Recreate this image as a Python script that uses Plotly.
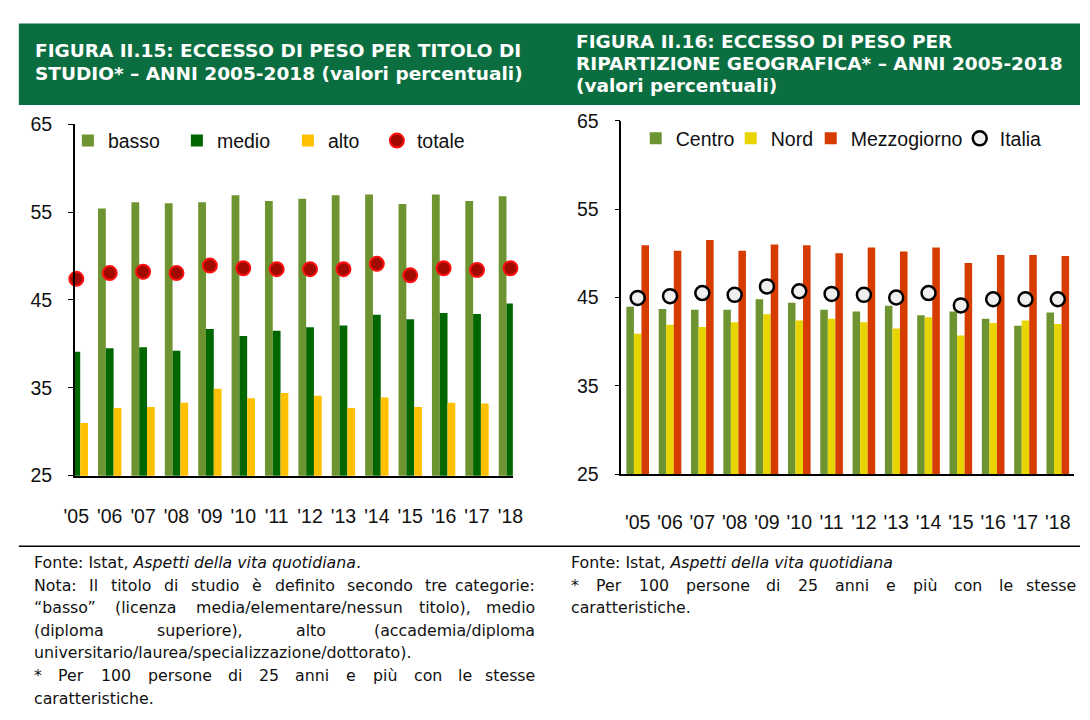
import plotly.graph_objects as go

W, H = 1090, 720

# ---------------- data ----------------
years = ["'05", "'06", "'07", "'08", "'09", "'10", "'11", "'12", "'13", "'14", "'15", "'16", "'17", "'18"]

basso = [55.2, 55.4, 56.1, 56.0, 56.1, 56.9, 56.25, 56.5, 56.9, 57.0, 55.9, 57.0, 56.25, 56.8]
medio = [39.1, 39.5, 39.6, 39.2, 41.7, 40.9, 41.5, 41.9, 42.1, 43.3, 42.8, 43.5, 43.4, 44.6]
alto = [31.0, 32.7, 32.8, 33.3, 34.9, 33.8, 34.4, 34.1, 32.7, 33.9, 32.8, 33.3, 33.2, 33.6]
totale = [47.4, 48.05, 48.2, 48.05, 48.9, 48.6, 48.5, 48.5, 48.5, 49.1, 47.8, 48.6, 48.4, 48.6]

centro = [43.95, 43.7, 43.6, 43.6, 44.8, 44.4, 43.6, 43.4, 44.05, 43.0, 43.4, 42.6, 41.8, 43.3]
nord = [40.9, 41.9, 41.65, 42.2, 43.1, 42.4, 42.6, 42.2, 41.5, 42.75, 40.7, 42.1, 42.4, 42.0]
mezzogiorno = [50.9, 50.3, 51.5, 50.3, 51.0, 50.9, 50.0, 50.65, 50.2, 50.65, 48.9, 49.8, 49.8, 49.7]
italia = [44.95, 45.15, 45.5, 45.3, 46.25, 45.7, 45.4, 45.3, 45.0, 45.5, 44.1, 44.8, 44.8, 44.8]

idx = list(range(len(years)))

title_left = ["FIGURA II.15: ECCESSO DI PESO PER TITOLO DI",
              "STUDIO* \u2013 ANNI 2005-2018 (valori percentuali)"]
title_right = ["FIGURA II.16: ECCESSO DI PESO PER",
               "RIPARTIZIONE GEOGRAFICA* \u2013 ANNI 2005-2018",
               "(valori percentuali)"]

notes_left = [
    ("Fonte: Istat, <i>Aspetti della vita quotidiana</i>.", False),
    ("Nota: Il titolo di studio \u00e8 definito secondo tre categorie:", True),
    ("\u201cbasso\u201d (licenza media/elementare/nessun titolo), medio", True),
    ("(diploma superiore), alto (accademia/diploma", True),
    ("universitario/laurea/specializzazione/dottorato).", False),
    ("* Per 100 persone di 25 anni e pi\u00f9 con le stesse", True),
    ("caratteristiche.", False),
]
notes_right = [
    ("Fonte: Istat, <i>Aspetti della vita quotidiana</i>", False),
    ("* Per 100 persone di 25 anni e pi\u00f9 con le stesse", True),
    ("caratteristiche.", False),
]

# ---------------- styles ----------------
C_BASSO = "#6E9431"
C_MEDIO = "#006600"
C_ALTO = "#FFC000"
C_CENTRO = "#6E9431"
C_NORD = "#E8D400"
C_MEZZ = "#D63C00"
BANNER = "#0B6E41"
AX_FONT = dict(family="Liberation Sans, Arial", size=19.5, color="#111111")

fig = go.Figure()

# left chart
fig.add_trace(go.Bar(x=idx, y=basso, name="basso", marker=dict(color=C_BASSO, line=dict(width=0)),
                     xaxis="x", yaxis="y", legend="legend", legendwidth=64))
fig.add_trace(go.Bar(x=idx, y=medio, name="medio", marker=dict(color=C_MEDIO, line=dict(width=0)),
                     xaxis="x", yaxis="y", legend="legend", legendwidth=66))
fig.add_trace(go.Bar(x=idx, y=alto, name="alto", marker=dict(color=C_ALTO, line=dict(width=0)),
                     xaxis="x", yaxis="y", legend="legend", legendwidth=44))
fig.add_trace(go.Scatter(x=idx, y=totale, name="totale", mode="markers", cliponaxis=False,
                         marker=dict(size=14, color="#A00A00", line=dict(color="#FF1010", width=2)),
                         xaxis="x", yaxis="y", legend="legend", legendwidth=60))

# right chart
fig.add_trace(go.Bar(x=idx, y=centro, name="Centro", marker=dict(color=C_CENTRO, line=dict(width=0)),
                     xaxis="x2", yaxis="y2", legend="legend2", legendwidth=50))
fig.add_trace(go.Bar(x=idx, y=nord, name="Nord", marker=dict(color=C_NORD, line=dict(width=0)),
                     xaxis="x2", yaxis="y2", legend="legend2", legendwidth=35))
fig.add_trace(go.Bar(x=idx, y=mezzogiorno, name="Mezzogiorno", marker=dict(color=C_MEZZ, line=dict(width=0)),
                     xaxis="x2", yaxis="y2", legend="legend2", legendwidth=104))
fig.add_trace(go.Scatter(x=idx, y=italia, name="Italia", mode="markers", cliponaxis=False,
                         marker=dict(size=14, color="#EFEFEF", line=dict(color="#000000", width=2.5)),
                         xaxis="x2", yaxis="y2", legend="legend2", legendwidth=50))


def px_x(p):
    return p / W


def px_y(p):
    return 1 - p / H


xcommon = dict(tickmode="array", tickvals=idx, ticktext=years, showline=True, linecolor="#000000",
               linewidth=1.5, ticks="", showgrid=False, zeroline=False, tickfont=AX_FONT, fixedrange=True)
ycommon = dict(range=[25, 65], dtick=10, tick0=25, showline=True, linecolor="#000000", linewidth=1.5,
               ticks="outside", ticklen=5, tickcolor="#000000", tickwidth=1.2, showgrid=False,
               zeroline=False, tickfont=AX_FONT, ticklabelstandoff=12, fixedrange=True)

fig.update_layout(
    width=W, height=H, autosize=False,
    margin=dict(l=0, r=0, t=0, b=0),
    paper_bgcolor="white", plot_bgcolor="white",
    barmode="group", bargap=0.3, bargroupgap=0,
    xaxis=dict(domain=[px_x(65), px_x(511.7)], range=[-0.047, 13.073], anchor="y",
               ticklabelstandoff=22, **xcommon),
    yaxis=dict(domain=[px_y(479.3), px_y(116.7)], anchor="x", **ycommon),
    xaxis2=dict(domain=[px_x(622.3), px_x(1083.5)], range=[-0.507, 13.49], anchor="y2",
                ticklabelstandoff=30, **xcommon),
    yaxis2=dict(domain=[px_y(477.7), px_y(113.3)], anchor="x2", **ycommon),
    legend=dict(orientation="h", x=px_x(58), y=px_y(134), xanchor="left", yanchor="middle",
                font=AX_FONT, bgcolor="rgba(0,0,0,0)", itemwidth=30, traceorder="normal"),
    legend2=dict(orientation="h", x=px_x(637), y=px_y(131.7), xanchor="left", yanchor="middle",
                 font=AX_FONT, bgcolor="rgba(0,0,0,0)", itemwidth=30, traceorder="normal"),
    showlegend=True,
)

shapes = []
annotations = []

# title banner
shapes.append(dict(type="rect", xref="paper", yref="paper", x0=px_x(8), x1=1.0, y0=px_y(97), y1=px_y(13),
                   fillcolor=BANNER, line=dict(width=0), layer="below"))
TFONT = dict(family="DejaVu Sans", size=18.5, color="white", weight="bold")
for i, t in enumerate(title_left):
    annotations.append(dict(text="<b>%s</b>" % t, xref="paper", yref="paper", x=px_x(22), y=px_y(41 + 23 * i),
                            xanchor="left", yanchor="middle", showarrow=False, font=TFONT))
for i, t in enumerate(title_right):
    annotations.append(dict(text="<b>%s</b>" % t, xref="paper", yref="paper", x=px_x(574), y=px_y(31 + 23 * i),
                            xanchor="left", yanchor="middle", showarrow=False, font=TFONT))

# separator line
shapes.append(dict(type="line", xref="paper", yref="paper", x0=px_x(8), x1=1.0, y0=px_y(552), y1=px_y(552),
                   line=dict(color="#000000", width=1.5)))

# footnotes (justified text)
NFS = 15.8
NFONT = dict(family="DejaVu Sans", size=NFS, color="#111111")
WID = {' ': .318, '*': .500, '(': .390, ')': .390, ',': .318, '.': .318, '/': .337, ':': .337, '-': .361,
       '\u201c': .518, '\u201d': .518, '\u00e8': .615, '\u00f9': .634,
       'N': .748, 'I': .295, 'F': .575,
       'a': .613, 'b': .635, 'c': .550, 'd': .635, 'e': .615, 'f': .352, 'g': .635, 'h': .634, 'i': .278,
       'j': .278, 'k': .579, 'l': .278, 'm': .974, 'n': .634, 'o': .612, 'p': .635, 'q': .635, 'r': .411,
       's': .521, 't': .392, 'u': .634, 'v': .592, 'w': .818, 'x': .592, 'y': .592, 'z': .525}


def wlen(s):
    return sum(WID.get(ch, .636) for ch in s) * NFS


def add_note_lines(lines, x0, x1, y0, dy):
    for k, (txt, just) in enumerate(lines):
        y = px_y(y0 + dy * k)
        if not just:
            annotations.append(dict(text=txt, xref="paper", yref="paper", x=px_x(x0), y=y, xanchor="left",
                                    yanchor="middle", showarrow=False, font=NFONT))
            continue
        words = txt.split(" ")
        tot = sum(wlen(w) for w in words)
        gap = (x1 - x0 - tot) / (len(words) - 1)
        xp = x0
        for j, w in enumerate(words):
            if j == len(words) - 1:
                annotations.append(dict(text=w, xref="paper", yref="paper", x=px_x(x1), y=y, xanchor="right",
                                        yanchor="middle", showarrow=False, font=NFONT))
            else:
                annotations.append(dict(text=w, xref="paper", yref="paper", x=px_x(xp), y=y, xanchor="left",
                                        yanchor="middle", showarrow=False, font=NFONT))
            xp += wlen(w) + gap


add_note_lines(notes_left, 21, 536, 569, 23.3)
add_note_lines(notes_right, 569, 1088, 569, 23.3)

fig.update_layout(shapes=shapes, annotations=annotations)

fig.write_html("out.html", config={"displayModeBar": False},
               post_script="document.body.style.margin='0';document.body.style.overflow='hidden';")
